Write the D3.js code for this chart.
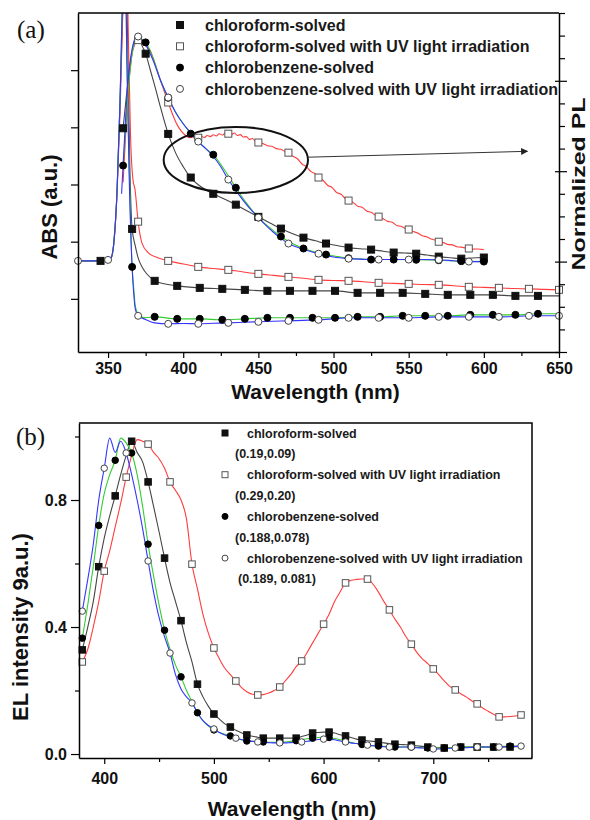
<!DOCTYPE html>
<html>
<head>
<meta charset="utf-8">
<script src="https://cdn.jsdelivr.net/npm/d3@7"></script>
<style>
  body { margin: 0; background: #fff; }
</style>
</head>
<body>
<div id="chart"></div>
<script>
// ---------------- Panel (a): absorption (left axis) ----------------
const absChloroform = [
  [330, 1.664], [340, 1.664], [345, 1.664], [350, 1.681], [352, 1.716], [354, 2.03], [356, 2.90],
  [358, 4.48], [360, 6.3], [361.5, 7.6], [363, 5.6], [364.5, 3.3], [366, 2.223], [368, 1.94],
  [370, 1.716], [373, 1.54], [376, 1.43], [381, 1.315], [388, 1.26], [396, 1.227], [411, 1.192],
  [426, 1.175], [441, 1.157], [456, 1.140], [471, 1.140], [486, 1.140], [501, 1.140], [516, 1.105],
  [531, 1.105], [546, 1.105], [561, 1.087], [576, 1.070], [591, 1.070], [606, 1.070], [621, 1.052],
  [636, 1.052], [650, 1.052]
];
const absChloroformUV = [
  [330, 1.664], [340, 1.664], [350, 1.681], [352, 1.716], [354, 2.0], [356, 2.85], [358, 4.3],
  [360, 6.2], [362, 7.6], [363.5, 5.6], [365, 3.8], [366.5, 3.1], [368, 2.9], [370, 2.35],
  [372.5, 1.98], [377, 1.80], [383, 1.72], [390, 1.664], [400, 1.61], [410, 1.559], [420, 1.53],
  [430, 1.507], [440, 1.47], [450, 1.437], [460, 1.41], [470, 1.384], [480, 1.36], [490, 1.332],
  [500, 1.32], [510, 1.315], [520, 1.30], [530, 1.280], [540, 1.27], [550, 1.262], [560, 1.25],
  [570, 1.245], [580, 1.23], [590, 1.210], [600, 1.20], [610, 1.192], [620, 1.18], [630, 1.175],
  [640, 1.165], [650, 1.157]
];
const absChlorobenzene = [
  [330, 1.664], [340, 1.664], [350, 1.681], [352, 1.716], [354, 2.03], [356, 2.90], [358, 4.48],
  [359.5, 6.2], [361, 7.8], [362.5, 5.2], [364, 3.4], [366, 1.559], [367, 1.21], [368, 0.895],
  [369, 0.79], [371, 0.69], [375, 0.67], [381, 0.685], [396, 0.650], [411, 0.650], [426, 0.633],
  [441, 0.650], [456, 0.668], [471, 0.668], [486, 0.668], [501, 0.668], [516, 0.685], [531, 0.685],
  [546, 0.703], [561, 0.703], [576, 0.703], [591, 0.720], [606, 0.720], [621, 0.720], [636, 0.738],
  [650, 0.738]
];
const absChlorobenzeneUV = [
  [330, 1.664], [340, 1.664], [350, 1.681], [352, 1.716], [354, 2.03], [356, 2.90], [358, 4.48],
  [359.5, 6.2], [361, 7.8], [362.5, 5.2], [364, 3.2], [366, 1.55], [367, 1.12], [368, 0.84],
  [369, 0.75], [370, 0.703], [375, 0.64], [381, 0.58], [390, 0.563], [400, 0.568], [410, 0.563],
  [420, 0.572], [430, 0.580], [440, 0.59], [450, 0.598], [460, 0.607], [470, 0.615], [480, 0.624],
  [490, 0.633], [500, 0.65], [510, 0.668], [520, 0.668], [530, 0.668], [540, 0.668], [550, 0.668],
  [560, 0.675], [570, 0.685], [580, 0.685], [590, 0.685], [600, 0.685], [610, 0.685], [620, 0.69],
  [630, 0.703], [640, 0.703], [650, 0.703]
];

// ---------------- Panel (a): normalized PL (right axis) ----------------
const plChloroform = [
  [360, 0.59], [362, 0.72], [364, 0.84], [366, 0.93], [368, 0.98], [369.5, 0.99], [371, 0.98],
  [373, 0.95], [375, 0.92], [378, 0.85], [381, 0.78], [385, 0.68], [390, 0.565], [395, 0.48],
  [400, 0.42], [405, 0.372], [410, 0.34], [415, 0.318], [420, 0.30], [428, 0.275], [435, 0.252],
  [442, 0.226], [450, 0.198], [458, 0.17], [465, 0.146], [472, 0.125], [480, 0.106], [488, 0.092],
  [495, 0.080], [503, 0.070], [510, 0.062], [518, 0.057], [525, 0.053], [533, 0.046], [540, 0.040],
  [548, 0.038], [555, 0.035], [562, 0.029], [570, 0.022], [578, 0.017], [585, 0.013], [592, 0.016],
  [600, 0.018]
];
const plChloroformUV = [
  [360, 0.35], [362, 0.60], [364, 0.80], [366, 0.92], [368, 0.965], [370, 0.98], [372, 0.97],
  [375, 0.955], [378, 0.935], [380, 0.90], [383, 0.84], [386, 0.78], [390, 0.704], [393, 0.65],
  [396, 0.605], [399, 0.575], [402, 0.556], [404, 0.548], [406, 0.552], [408, 0.544], [410, 0.548],
  [412, 0.555], [414, 0.549], [416, 0.558], [418, 0.553], [420, 0.561], [422, 0.556], [424, 0.566],
  [426, 0.560], [428, 0.569], [430, 0.566], [432, 0.562], [434, 0.569], [436, 0.558], [438, 0.562],
  [440, 0.551], [442, 0.553], [444, 0.541], [446, 0.545], [448, 0.532], [450, 0.527], [453, 0.522],
  [456, 0.513], [459, 0.510], [462, 0.500], [465, 0.497], [468, 0.486], [470, 0.482], [473, 0.466],
  [476, 0.455], [479, 0.432], [482, 0.420], [485, 0.398], [488, 0.388], [490, 0.372], [493, 0.360],
  [496, 0.338], [499, 0.328], [502, 0.306], [505, 0.298], [508, 0.278], [510, 0.270], [513, 0.262],
  [516, 0.245], [519, 0.240], [522, 0.224], [525, 0.218], [528, 0.204], [530, 0.199], [533, 0.190],
  [536, 0.178], [539, 0.174], [542, 0.160], [545, 0.156], [548, 0.146], [550, 0.142], [553, 0.133],
  [556, 0.127], [559, 0.114], [562, 0.110], [565, 0.100], [568, 0.094], [570, 0.088], [573, 0.084],
  [576, 0.076], [579, 0.074], [582, 0.066], [585, 0.064], [588, 0.060], [590, 0.058], [593, 0.055],
  [596, 0.056], [600, 0.053]
];
const plChlorobenzene = [
  [360, 0.425], [362, 0.62], [364, 0.80], [366, 0.92], [368, 0.975], [369.5, 0.99], [371, 0.988],
  [373, 0.98], [375, 0.970], [380, 0.90], [385, 0.80], [390, 0.725], [395, 0.66], [400, 0.61],
  [405, 0.566], [410, 0.53], [415, 0.50], [420, 0.473], [428, 0.40], [435, 0.327], [442, 0.26],
  [450, 0.195], [458, 0.148], [465, 0.111], [472, 0.082], [480, 0.058], [488, 0.042], [495, 0.031],
  [503, 0.022], [510, 0.015], [518, 0.012], [525, 0.009], [540, 0.009], [555, 0.008], [570, 0.006],
  [585, 0.002], [600, 0.0]
];
const plChlorobenzeneUV = [
  [359, 0.30], [361, 0.55], [363, 0.78], [365, 0.90], [367, 0.97], [369, 0.995], [370, 0.996],
  [372, 0.985], [375, 0.96], [380, 0.89], [385, 0.80], [390, 0.726], [395, 0.66], [400, 0.61],
  [405, 0.57], [410, 0.531], [415, 0.50], [420, 0.465], [425, 0.42], [430, 0.363], [435, 0.315],
  [440, 0.27], [445, 0.23], [450, 0.195], [455, 0.16], [460, 0.13], [465, 0.103], [470, 0.080],
  [480, 0.055], [490, 0.035], [500, 0.02], [510, 0.013], [520, 0.01], [530, 0.009], [540, 0.009],
  [550, 0.009], [560, 0.009], [570, 0.008], [580, 0.004], [590, 0.0], [600, 0.0]
];

// wavelengths (nm) that carry a symbol in panel (a)
const absMarksChloroform = [345, 366, 381, 396, 411, 426, 441, 456, 471, 486, 501, 516, 531, 546, 561, 576, 591, 606, 621, 636];
const absMarksChlorobenzene = [366, 381, 396, 411, 426, 441, 456, 471, 486, 501, 516, 531, 546, 561, 576, 591, 606, 621, 636];
const absMarksChloroformUV = [370, 390, 410, 430, 450, 470, 490, 510, 530, 550, 570, 590, 610, 630, 650];
const absMarksChlorobenzeneUV = [330, 350, 370, 390, 410, 430, 450, 470, 490, 510, 530, 550, 570, 590, 610, 630, 650];
const plMarks15 = [360, 375, 390, 405, 420, 435, 450, 465, 480, 495, 510, 525, 540, 555, 570, 585, 600];
const plMarks20 = [370, 390, 410, 430, 450, 470, 490, 510, 530, 550, 570, 590];

const xTicksA = [350, 400, 450, 500, 550, 600, 650];
const xMinorA = [375, 425, 475, 525, 575, 625];
const absTicks = [1, 2, 3, 4, 5];
const plMajor = [-0.4, 0, 0.4, 0.8];
const plMinor = [-0.3, -0.2, -0.1, 0.1, 0.2, 0.3, 0.5, 0.6, 0.7, 0.9, 1.0, 1.1];

// ---------------- Panel (b): EL spectra ----------------
const wlEL = [
  380, 385, 390, 395, 400, 405, 410, 415, 420, 425, 430, 435, 440, 445, 450, 455, 460, 465, 470, 475,
  480, 485, 490, 495, 500, 505, 510, 515, 520, 525, 530, 535, 540, 545, 550, 555, 560, 565, 570, 575,
  580, 585, 590, 595, 600, 605, 610, 615, 620, 625, 630, 635, 640, 645, 650, 655, 660, 665, 670, 675,
  680, 685, 690, 695, 700, 705, 710, 715, 720, 725, 730, 735, 740, 745, 750, 755, 760, 765, 770, 775,
  780
];
const elChloroform = [
  0.328, 0.40, 0.48, 0.59, 0.68, 0.75, 0.813, 0.88, 0.94, 0.985, 0.95, 0.92, 0.857, 0.78, 0.70, 0.617, 0.54, 0.48, 0.42, 0.35,
  0.29, 0.22, 0.18, 0.15, 0.126, 0.11, 0.095, 0.085, 0.075, 0.067, 0.060, 0.056, 0.053, 0.050, 0.050, 0.050, 0.050, 0.050, 0.050, 0.050,
  0.055, 0.060, 0.066, 0.068, 0.069, 0.069, 0.066, 0.061, 0.057, 0.052, 0.047, 0.044, 0.042, 0.040, 0.038, 0.035, 0.033, 0.031, 0.030, 0.029,
  0.028, 0.026, 0.024, 0.022, 0.021, 0.020, 0.019, 0.020, 0.021, 0.022, 0.022, 0.022, 0.022, 0.022, 0.022, 0.022, 0.022, 0.022, 0.022, 0.023,
  0.024
];
const elChloroformUV = [
  0.29, 0.33, 0.40, 0.48, 0.576, 0.64, 0.715, 0.79, 0.872, 0.94, 0.99, 0.985, 0.976, 0.95, 0.93, 0.90, 0.857, 0.83, 0.80, 0.74,
  0.598, 0.52, 0.44, 0.38, 0.334, 0.30, 0.27, 0.25, 0.230, 0.21, 0.196, 0.188, 0.186, 0.187, 0.192, 0.20, 0.211, 0.23, 0.25, 0.275,
  0.293, 0.32, 0.35, 0.38, 0.409, 0.44, 0.48, 0.51, 0.539, 0.547, 0.55, 0.551, 0.551, 0.535, 0.51, 0.48, 0.454, 0.425, 0.40, 0.37,
  0.346, 0.32, 0.30, 0.285, 0.268, 0.25, 0.23, 0.213, 0.202, 0.19, 0.18, 0.168, 0.158, 0.145, 0.135, 0.125, 0.117, 0.117, 0.118, 0.12,
  0.123
];
const elChlorobenzene = [
  0.365, 0.47, 0.59, 0.72, 0.82, 0.88, 0.925, 0.995, 0.98, 0.948, 0.88, 0.78, 0.661, 0.56, 0.47, 0.39, 0.33, 0.28, 0.243, 0.20,
  0.165, 0.13, 0.105, 0.088, 0.076, 0.068, 0.062, 0.057, 0.050, 0.045, 0.041, 0.040, 0.039, 0.038, 0.037, 0.037, 0.037, 0.038, 0.040, 0.042,
  0.045, 0.048, 0.050, 0.052, 0.053, 0.052, 0.049, 0.045, 0.040, 0.036, 0.033, 0.030, 0.028, 0.026, 0.025, 0.024, 0.023, 0.022, 0.022, 0.022,
  0.022, 0.021, 0.020, 0.019, 0.019, 0.019, 0.019, 0.020, 0.021, 0.022, 0.022, 0.022, 0.022, 0.022, 0.022, 0.022, 0.023, 0.024, 0.025, 0.025,
  0.026
];
const elChlorobenzeneUV = [
  0.45, 0.55, 0.66, 0.80, 0.90, 0.995, 0.95, 0.985, 0.948, 0.88, 0.80, 0.71, 0.608, 0.51, 0.43, 0.37, 0.318, 0.25, 0.205, 0.18,
  0.161, 0.13, 0.105, 0.09, 0.079, 0.068, 0.06, 0.054, 0.050, 0.046, 0.042, 0.040, 0.038, 0.037, 0.036, 0.035, 0.035, 0.035, 0.036, 0.037,
  0.038, 0.040, 0.043, 0.046, 0.047, 0.047, 0.045, 0.041, 0.038, 0.035, 0.033, 0.030, 0.028, 0.026, 0.025, 0.023, 0.022, 0.022, 0.022, 0.022,
  0.022, 0.020, 0.019, 0.017, 0.016, 0.016, 0.017, 0.018, 0.019, 0.020, 0.020, 0.021, 0.022, 0.022, 0.022, 0.022, 0.022, 0.023, 0.024, 0.024,
  0.025
];

const xTicksB = [400, 500, 600, 700];
const xMinorB = [450, 550, 650, 750];
const yTicksB = [0.0, 0.4, 0.8];
const yMinorB = [0.2, 0.6, 1.0];

// legend
const seriesLabels = [
  'chloroform-solved',
  'chloroform-solved with UV light irradiation',
  'chlorobenzene-solved',
  'chlorobenzene-solved with UV light irradiation'
];
const elCoords = ['(0.19,0.09)', '(0.29,0.20)', '(0.188,0.078)', '(0.189, 0.081)'];
const seriesColors = ['#454545', '#ff3d3d', '#33cc33', '#3535ff'];
const seriesSymbols = ['squareFilled', 'squareOpen', 'circleFilled', 'circleOpen'];

// ---------------- drawing ----------------
const FONT = '"Liberation Sans", Arial, Helvetica, sans-serif';
const SERIF = '"Liberation Serif", "Times New Roman", serif';

const svg = d3.select('#chart').append('svg')
  .attr('width', 590)
  .attr('height', 820)
  .style('background', '#fff');

function drawSymbol(g, type, x, y, size) {
  if (type.startsWith('square')) {
    g.append('rect')
      .attr('x', x - size / 2).attr('y', y - size / 2)
      .attr('width', size).attr('height', size)
      .attr('fill', type === 'squareFilled' ? '#111' : '#fff')
      .attr('stroke', type === 'squareFilled' ? '#111' : '#555')
      .attr('stroke-width', 1);
  } else {
    g.append('circle')
      .attr('cx', x).attr('cy', y).attr('r', size / 2)
      .attr('fill', type === 'circleFilled' ? '#000' : '#fff')
      .attr('stroke', type === 'circleFilled' ? '#000' : '#444')
      .attr('stroke-width', 1);
  }
}

function pick(data, nms) {
  return nms.map(n => data.find(d => d[0] === n)).filter(Boolean);
}

function styleAxis(g, size) {
  g.select('.domain').attr('stroke', '#000').attr('stroke-width', 1.5);
  g.selectAll('.tick line').attr('stroke', '#000').attr('stroke-width', 1.2);
  g.selectAll('.tick text')
    .attr('fill', '#111')
    .attr('font-family', FONT)
    .attr('font-size', size)
    .attr('font-weight', 'bold');
}

// ===== Panel (a) =====
const pa = { left: 78, right: 559, top: 13, bottom: 352 };
const xA = d3.scaleLinear().domain([330, 650]).range([pa.left, pa.right]);
const yAbs = d3.scaleLinear().domain([0.07, 6.0]).range([pa.bottom, pa.top]);
const yPL = d3.scaleLinear().domain([-0.4, 1.1]).range([pa.bottom, pa.top]);

svg.append('clipPath').attr('id', 'clipA').append('rect')
  .attr('x', pa.left).attr('y', pa.top)
  .attr('width', pa.right - pa.left).attr('height', pa.bottom - pa.top);

const lineAbs = d3.line().x(d => xA(d[0])).y(d => yAbs(d[1])).curve(d3.curveMonotoneX);
const linePL = d3.line().x(d => xA(d[0])).y(d => yPL(d[1])).curve(d3.curveMonotoneX);

const absSets = [absChloroform, absChloroformUV, absChlorobenzene, absChlorobenzeneUV];
const absMarkSets = [absMarksChloroform, absMarksChloroformUV, absMarksChlorobenzene, absMarksChlorobenzeneUV];
const plSets = [plChloroform, plChloroformUV, plChlorobenzene, plChlorobenzeneUV];
const plMarkSets = [plMarks15, plMarks20, plMarks15, plMarks20];

const plotA = svg.append('g').attr('clip-path', 'url(#clipA)');

absSets.forEach((data, i) => {
  plotA.append('path').datum(data)
    .attr('d', lineAbs).attr('fill', 'none')
    .attr('stroke', seriesColors[i]).attr('stroke-width', 1.1);
});
plSets.forEach((data, i) => {
  plotA.append('path').datum(data)
    .attr('d', linePL).attr('fill', 'none')
    .attr('stroke', seriesColors[i]).attr('stroke-width', 1.1);
});

const marksA = svg.append('g');
absSets.forEach((data, i) => {
  pick(data, absMarkSets[i]).forEach(d => drawSymbol(marksA, seriesSymbols[i], xA(d[0]), yAbs(d[1]), 7));
});
plSets.forEach((data, i) => {
  pick(data, plMarkSets[i]).forEach(d => drawSymbol(marksA, seriesSymbols[i], xA(d[0]), yPL(d[1]), 7));
});

// axes (a)
const axBottomA = svg.append('g').attr('transform', `translate(0,${pa.bottom})`)
  .call(d3.axisBottom(xA).tickValues(xTicksA).tickSize(6).tickSizeOuter(0).tickPadding(5).tickFormat(d3.format('d')));
styleAxis(axBottomA, 16);
const axBottomMinorA = svg.append('g').attr('transform', `translate(0,${pa.bottom})`)
  .call(d3.axisBottom(xA).tickValues(xMinorA).tickSize(4).tickFormat(''));
axBottomMinorA.select('.domain').remove();
styleAxis(axBottomMinorA, 16);

const axLeftA = svg.append('g').attr('transform', `translate(${pa.left},0)`)
  .call(d3.axisLeft(yAbs).tickValues(absTicks).tickSize(7).tickSizeOuter(0).tickFormat(''));
styleAxis(axLeftA, 16);

const axRightA = svg.append('g').attr('transform', `translate(${pa.right},0)`)
  .call(d3.axisRight(yPL).tickValues(plMajor).tickSize(8).tickSizeOuter(0).tickFormat(''));
styleAxis(axRightA, 16);
axRightA.selectAll('.tick line').attr('x1', -4);
const axRightMinorA = svg.append('g').attr('transform', `translate(${pa.right},0)`)
  .call(d3.axisRight(yPL).tickValues(plMinor).tickSize(6).tickFormat(''));
axRightMinorA.select('.domain').remove();
styleAxis(axRightMinorA, 16);

svg.append('line')
  .attr('x1', pa.left).attr('x2', pa.right).attr('y1', pa.top).attr('y2', pa.top)
  .attr('stroke', '#000').attr('stroke-width', 1.5);

// ellipse + arrow annotation around the PL shoulder
const defs = svg.append('defs');
defs.append('marker')
  .attr('id', 'arrowHead').attr('viewBox', '0 0 10 10')
  .attr('refX', 9).attr('refY', 5)
  .attr('markerWidth', 9).attr('markerHeight', 7)
  .attr('markerUnits', 'userSpaceOnUse')
  .attr('orient', 'auto')
  .append('path').attr('d', 'M0,0 L10,5 L0,10 z').attr('fill', '#222');

svg.append('ellipse')
  .attr('cx', xA(435)).attr('cy', yPL(0.45))
  .attr('rx', xA(483) - xA(435)).attr('ry', yPL(0.45) - yPL(0.596))
  .attr('fill', 'none').attr('stroke', '#111').attr('stroke-width', 2);

svg.append('line')
  .attr('x1', xA(483)).attr('y1', yPL(0.462))
  .attr('x2', xA(629)).attr('y2', yPL(0.488))
  .attr('stroke', '#333').attr('stroke-width', 1)
  .attr('marker-end', 'url(#arrowHead)');

// legend (a)
const legendA = svg.append('g');
seriesLabels.forEach((label, i) => {
  const cy = 25 + i * 21.3;
  drawSymbol(legendA, seriesSymbols[i], 180, cy, 7);
  legendA.append('text')
    .attr('x', 205).attr('y', cy + 5.6)
    .attr('font-family', FONT).attr('font-size', 16).attr('font-weight', 'bold')
    .attr('fill', '#1a1a1a')
    .text(label);
});

// titles (a)
svg.append('text')
  .attr('x', 17).attr('y', 38)
  .attr('font-family', SERIF).attr('font-size', 25).attr('fill', '#111')
  .text('(a)');

svg.append('text')
  .attr('x', (pa.left + pa.right) / 2 - 3).attr('y', 399)
  .attr('text-anchor', 'middle')
  .attr('font-family', FONT).attr('font-size', 21).attr('font-weight', 'bold').attr('fill', '#111')
  .text('Wavelength (nm)');

svg.append('text')
  .attr('transform', 'translate(57,207) rotate(-90)')
  .attr('text-anchor', 'middle')
  .attr('font-family', FONT).attr('font-size', 22).attr('font-weight', 'bold').attr('fill', '#111')
  .text('ABS (a.u.)');

svg.append('text')
  .attr('transform', 'translate(585,184) rotate(-90)')
  .attr('text-anchor', 'middle')
  .attr('font-family', FONT).attr('font-size', 19).attr('font-weight', 'bold').attr('fill', '#111')
  .attr('textLength', 173).attr('lengthAdjust', 'spacingAndGlyphs')
  .text('Normalized PL');

// ===== Panel (b) =====
const pb = { left: 79, right: 532, top: 423, bottom: 758 };
const xB = d3.scaleLinear().domain([377, 790]).range([pb.left, pb.right]);
const yB = d3.scaleLinear().domain([-0.0125, 1.0425]).range([pb.bottom, pb.top]);

svg.append('clipPath').attr('id', 'clipB').append('rect')
  .attr('x', pb.left).attr('y', pb.top)
  .attr('width', pb.right - pb.left).attr('height', pb.bottom - pb.top);

const elSets = [elChloroform, elChloroformUV, elChlorobenzene, elChlorobenzeneUV];
const markStep = [3, 4, 3, 4];
const lineEL = d3.line().x(d => xB(d.wl)).y(d => yB(d.v)).curve(d3.curveMonotoneX);

const plotB = svg.append('g').attr('clip-path', 'url(#clipB)');
const elRows = elSets.map(vals => wlEL.map((wl, k) => ({ wl, v: vals[k] })));

elRows.forEach((rows, i) => {
  plotB.append('path').datum(rows)
    .attr('d', lineEL).attr('fill', 'none')
    .attr('stroke', seriesColors[i]).attr('stroke-width', 1.1);
});
const marksB = svg.append('g');
elRows.forEach((rows, i) => {
  rows.filter((d, k) => k % markStep[i] === 0)
    .forEach(d => drawSymbol(marksB, seriesSymbols[i], xB(d.wl), yB(d.v), 6.5));
});

const axBottomB = svg.append('g').attr('transform', `translate(0,${pb.bottom})`)
  .call(d3.axisBottom(xB).tickValues(xTicksB).tickSize(6).tickSizeOuter(0).tickPadding(9).tickFormat(d3.format('d')));
styleAxis(axBottomB, 16);
const axBottomMinorB = svg.append('g').attr('transform', `translate(0,${pb.bottom})`)
  .call(d3.axisBottom(xB).tickValues(xMinorB).tickSize(4).tickFormat(''));
axBottomMinorB.select('.domain').remove();
styleAxis(axBottomMinorB, 16);

const axLeftB = svg.append('g').attr('transform', `translate(${pb.left},0)`)
  .call(d3.axisLeft(yB).tickValues(yTicksB).tickSize(8).tickSizeOuter(0).tickPadding(4).tickFormat(d3.format('.1f')));
styleAxis(axLeftB, 16);
const axLeftMinorB = svg.append('g').attr('transform', `translate(${pb.left},0)`)
  .call(d3.axisLeft(yB).tickValues(yMinorB).tickSize(4).tickFormat(''));
axLeftMinorB.select('.domain').remove();
styleAxis(axLeftMinorB, 16);

svg.append('path')
  .attr('d', `M${pb.left},${pb.top} H${pb.right} V${pb.bottom}`)
  .attr('fill', 'none').attr('stroke', '#000').attr('stroke-width', 1.5);

// legend (b)
const legendB = svg.append('g');
seriesLabels.forEach((label, i) => {
  const cy = 433 + i * 41.7;
  drawSymbol(legendB, seriesSymbols[i], 225, cy, 6);
  legendB.append('text')
    .attr('x', 247).attr('y', cy + 4.5)
    .attr('font-family', FONT).attr('font-size', 12.5).attr('font-weight', 'bold').attr('fill', '#1a1a1a')
    .text(label);
  legendB.append('text')
    .attr('x', i === 3 ? 238 : 235).attr('y', cy + 25.3)
    .attr('font-family', FONT).attr('font-size', 12.5).attr('font-weight', 'bold').attr('fill', '#1a1a1a')
    .text(elCoords[i]);
});

svg.append('text')
  .attr('x', 16).attr('y', 445)
  .attr('font-family', SERIF).attr('font-size', 25).attr('fill', '#111')
  .text('(b)');

svg.append('text')
  .attr('x', 292).attr('y', 816)
  .attr('text-anchor', 'middle')
  .attr('font-family', FONT).attr('font-size', 21).attr('font-weight', 'bold').attr('fill', '#111')
  .text('Wavelength (nm)');

svg.append('text')
  .attr('transform', 'translate(28,627) rotate(-90)')
  .attr('text-anchor', 'middle')
  .attr('font-family', FONT).attr('font-size', 22).attr('font-weight', 'bold').attr('fill', '#111')
  .text('EL intensity 9a.u.)');
</script>
</body>
</html>
